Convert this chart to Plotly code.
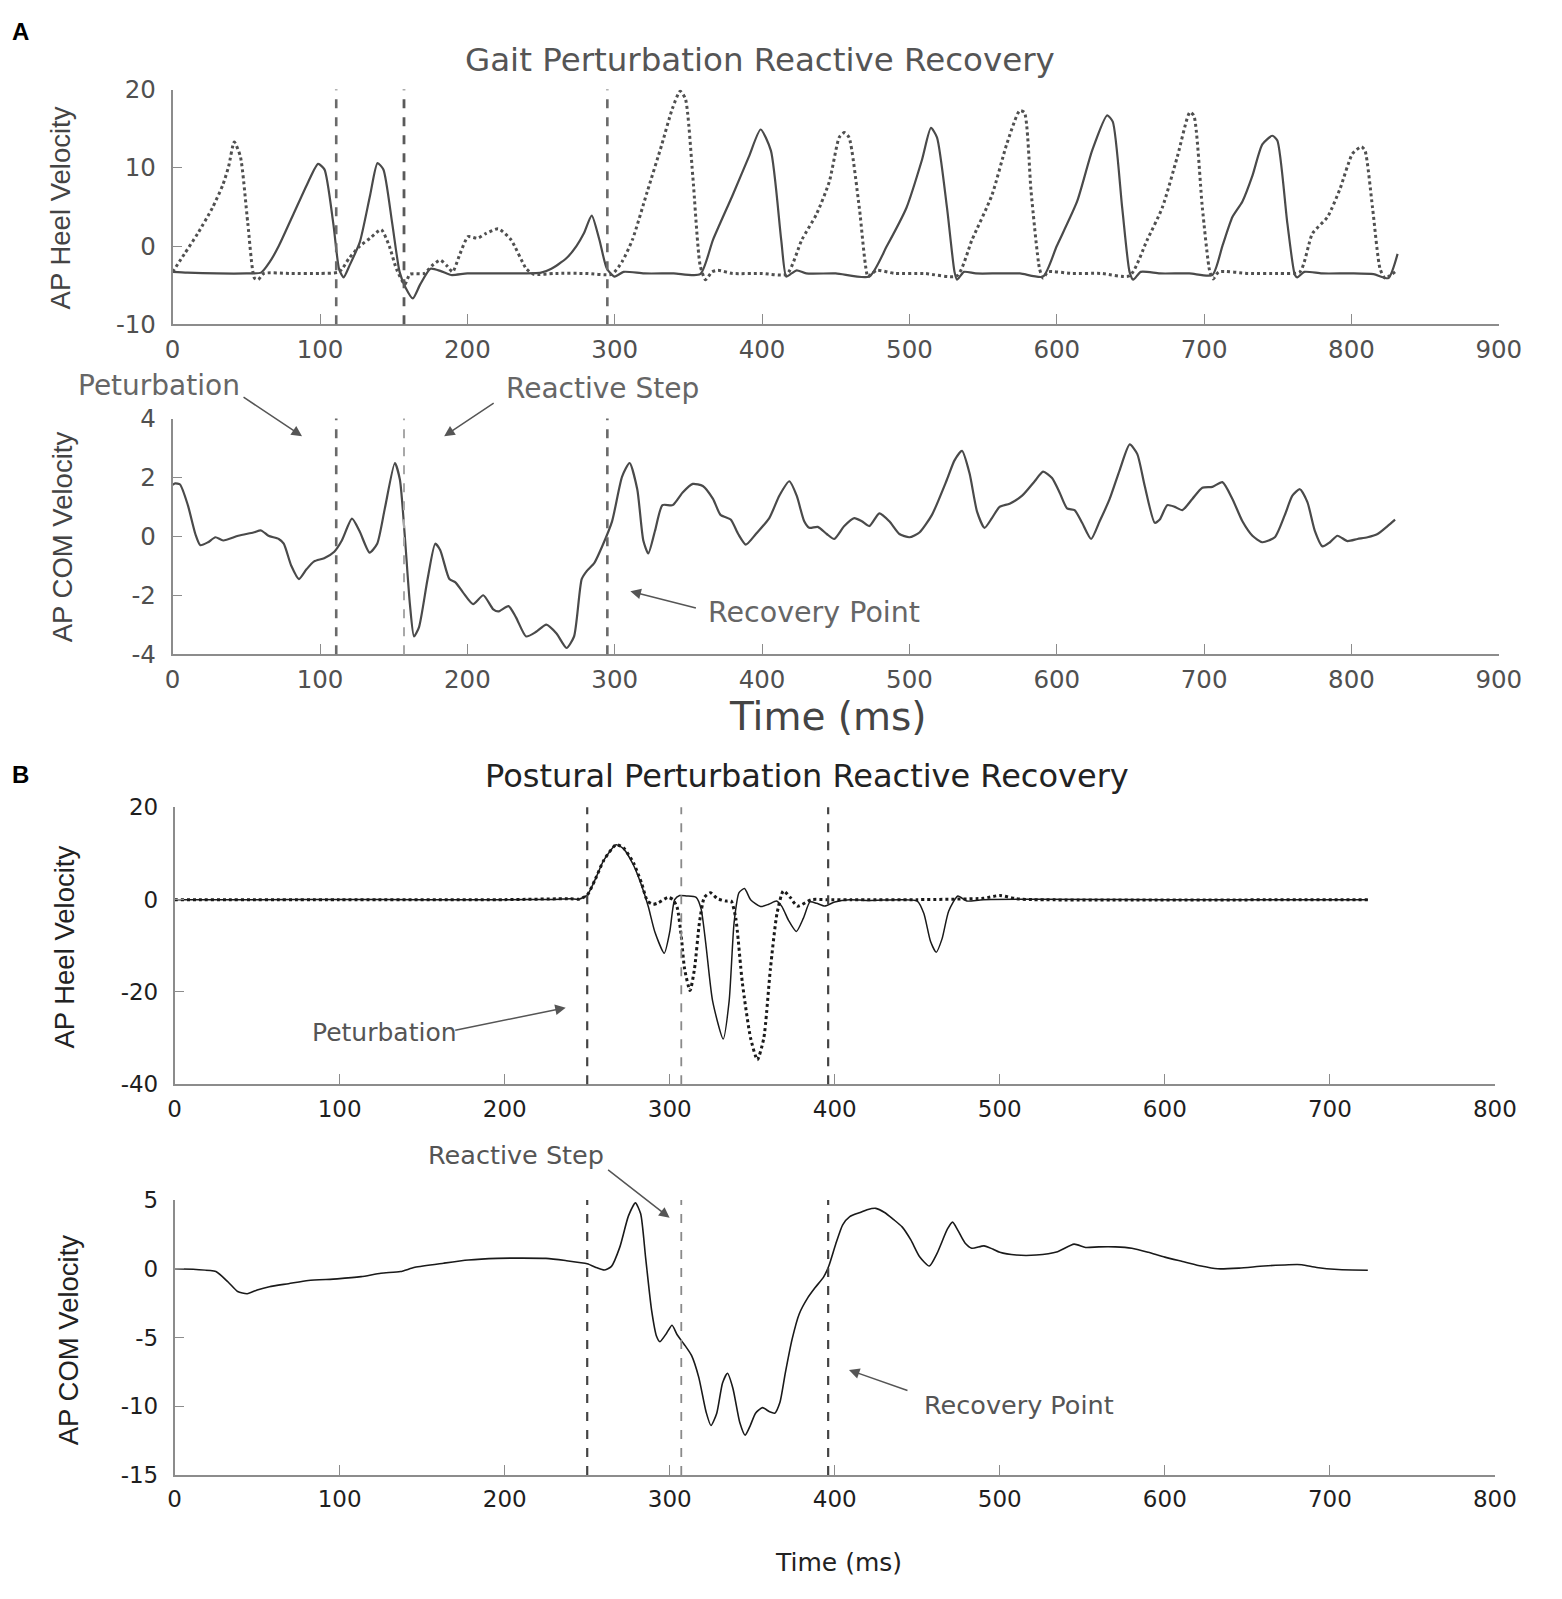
import plotly.graph_objects as go

# ---- data -------------------------------------------------------------
# A: gait perturbation, heel velocity (two feet)
gait_heel_t_solid = [0, 10, 30, 50, 60, 66, 72, 82, 92, 98.7, 103, 109, 113, 116, 120, 127,
                     134, 139, 143, 149, 154, 158, 163, 168, 175, 182, 189, 200, 230, 250,
                     257, 267, 274, 279, 284.4, 289.6, 294.7, 300, 306, 320, 340, 358, 366.7,
                     380, 391, 399, 406, 413, 416.4, 420, 423.5, 430, 450, 472.8, 484.7, 498,
                     508.5, 514.6, 518.7, 525.5, 530.6, 532.3, 537, 545, 560, 575, 590.7, 600,
                     613.8, 624, 634.2, 638, 644.4, 649.4, 651.9, 657, 670, 690, 705.6, 712.4,
                     719.2, 726, 732.8, 739.5, 746.3, 749.7, 756.5, 761.6, 763.3, 768, 780,
                     800, 815, 825, 831.3]
gait_heel_v_solid = [-3.3, -3.4, -3.5, -3.5, -3.4, -2.0, 0, 4.1, 8.2, 10.5, 9.8, 2.9, -3.0,
                     -4.0, -2.5, 0.5, 6.5, 10.6, 9.8, 2.9, -3.3, -5.3, -6.7, -4.9, -2.9, -3.2,
                     -3.7, -3.5, -3.5, -3.4, -2.9, -1.6, 0, 1.6, 3.9, 0.8, -2.9, -3.9, -3.3,
                     -3.5, -3.5, -3.6, 0.8, 6.5, 11.4, 14.9, 12.2, 0.8, -3.9, -3.5, -3.1, -3.5,
                     -3.5, -3.9, 0, 4.9, 11, 15.1, 13.9, 4.9, -3.3, -4.3, -3.3, -3.5, -3.5,
                     -3.5, -3.9, 0, 5.7, 12.2, 16.7, 15.9, 4.9, -3.3, -4.3, -3.3, -3.5, -3.5,
                     -3.7, 0, 3.7, 5.7, 9, 13, 14.1, 13.5, 2.9, -3.7, -4.0, -3.3, -3.5, -3.5,
                     -3.6, -4.1, -1.0]
gait_heel_t_dot = [0, 8, 17, 27, 34, 38, 41.8, 46, 51, 55.5, 58, 62, 80, 100, 113, 120, 127,
                   134, 141.5, 147, 152, 157.6, 161, 171, 176, 181.6, 186, 190, 195, 200.5,
                   207, 212.5, 221, 229.6, 240, 245, 260, 280, 298, 305, 312, 322, 332, 339,
                   344.4, 348, 353, 358, 361.6, 366, 370, 380, 400, 416.8, 427, 437, 445.6,
                   452.4, 455.8, 459, 466, 471.8, 474, 478, 490, 510, 532.3, 542.5, 556, 566,
                   574.8, 578, 582.6, 588.3, 590.7, 594, 610, 630, 649.5, 661.4, 671.6, 681.8,
                   690.3, 693, 698.8, 703.9, 706.2, 710, 730, 750, 765, 773.5, 783.7, 792.2,
                   800.7, 806.8, 809.2, 814.3, 819.4, 822.8, 829.6]
gait_heel_v_dot = [-3.3, -1.0, 1.6, 4.9, 7.8, 10.2, 13.3, 11.4, 2.9, -4.1, -4.3, -3.5, -3.5,
                   -3.5, -3.3, -1.5, 0, 1.0, 2.1, 0, -3.0, -4.9, -3.6, -3.5, -2.5, -1.8, -2.5,
                   -3.3, -1.0, 1.2, 1.0, 1.6, 2.2, 0.8, -2.9, -3.6, -3.5, -3.5, -3.6, -2.0,
                   0.8, 6.9, 13, 17.5, 19.8, 18.8, 8.9, -2.5, -4.3, -3.3, -3.1, -3.5, -3.5,
                   -3.6, 0.8, 4.1, 8.2, 13.9, 14.5, 13.9, 4.9, -3.9, -3.6, -3.1, -3.5, -3.5,
                   -3.8, 0.8, 6.5, 13, 17.3, 17.1, 6.9, -2.9, -4.1, -3.3, -3.5, -3.5, -3.8,
                   0.8, 4.9, 11.4, 17.1, 16.7, 4.9, -3.3, -4.2, -3.3, -3.5, -3.5, -3.3, 1.6,
                   3.7, 7.3, 11.8, 12.7, 12.2, 4.9, -2.9, -4.1, -3.3]

# A: gait perturbation, COM velocity
gait_com_t = [0, 1.7, 5, 10.3, 15.4, 18.8, 24, 29, 34.3, 44.5, 54.8, 60, 65, 72, 75.4, 80.5,
              85.7, 90.8, 96, 102.8, 109.7, 114.8, 121.7, 126.8, 133.6, 138.8, 144, 150.8,
              154.2, 157.6, 161, 163.8, 167.2, 173, 178.2, 181.6, 187.8, 191.9, 197, 203.9,
              210.8, 217.6, 221, 227.9, 233, 239.9, 246.7, 253.6, 260.5, 267.3, 272.4, 277.6,
              281, 286.2, 291.3, 298.2, 305, 310.1, 315.3, 319.4, 322.8, 327.3, 332.4, 339.3,
              346.1, 353, 359.8, 366.7, 371.8, 378.7, 383.8, 389, 395.8, 404.9, 411.7, 418.5,
              423.5, 428.6, 432, 437.8, 443.9, 449, 455.8, 462.6, 467.7, 472.8, 479.6, 486.4,
              493.2, 500, 506.8, 515.3, 525.5, 530.6, 535.7, 540.8, 545.9, 551, 556, 561.2,
              568, 576.5, 585, 590.7, 596.8, 601.9, 607, 612.1, 617.2, 623.3, 629.1, 635.9,
              642.7, 649.5, 654.6, 659.7, 666.5, 669.9, 675, 680.1, 685.2, 692, 698.8, 705.6,
              712.4, 719.2, 726, 732.8, 739.5, 748, 754.8, 759.9, 765, 770.1, 775.2, 780.3,
              785.4, 790.5, 797.3, 804.1, 810.9, 817.7, 824.5, 829.6]
gait_com_v = [1.75, 1.8, 1.76, 1.06, 0.08, -0.3, -0.2, -0.03, -0.14, 0.02, 0.13, 0.2, 0.02,
              -0.09, -0.25, -1.0, -1.45, -1.12, -0.85, -0.74, -0.52, -0.14, 0.6, 0.18, -0.55,
              -0.25, 0.95, 2.49, 1.93, -0.03, -2.3, -3.4, -3.08, -1.45, -0.25, -0.47, -1.45,
              -1.56, -1.9, -2.3, -2.0, -2.48, -2.55, -2.37, -2.75, -3.4, -3.24, -3.0, -3.3,
              -3.79, -3.4, -1.45, -1.18, -0.9, -0.36, 0.51, 2.03, 2.49, 1.6, -0.14, -0.58,
              0.18, 1.06, 1.06, 1.49, 1.78, 1.71, 1.27, 0.73, 0.57, 0.08, -0.28, 0.08, 0.62,
              1.38, 1.87, 1.38, 0.51, 0.29, 0.32, 0.08, -0.09, 0.35, 0.62, 0.51, 0.35, 0.78,
              0.51, 0.08, -0.03, 0.13, 0.73, 1.93, 2.58, 2.9, 2.14, 0.84, 0.29, 0.62, 1.0,
              1.11, 1.38, 1.87, 2.2, 1.98, 1.49, 0.95, 0.89, 0.46, -0.09, 0.51, 1.27, 2.25,
              3.12, 2.8, 1.71, 0.46, 0.57, 1.06, 1.0, 0.89, 1.27, 1.65, 1.68, 1.84, 1.27,
              0.51, 0.02, -0.2, -0.03, 0.73, 1.38, 1.6, 1.16, 0.18, -0.34, -0.2, 0.02, -0.16,
              -0.09, -0.03, 0.08, 0.35, 0.57]

# B: postural perturbation, heel velocity (two feet)
post_heel_t_solid = [0, 50, 100, 150, 200, 230, 240, 245, 250, 255, 260, 267.5, 272, 278,
                     283, 287, 291, 296.7, 300, 303, 306, 310, 316, 319, 322, 326, 332.4, 336,
                     339, 342, 345.3, 349, 355, 360, 364.7, 368, 372, 376.7, 381, 385, 389,
                     394, 400, 409, 420, 440, 450, 454, 458, 461.5, 465, 469, 474.6, 480, 490,
                     600, 723]
post_heel_v_solid = [0, 0, 0.05, 0, 0, 0.05, 0.2, 0.1, 1.0, 4.5, 8.5, 11.9, 11, 7.5, 3,
                     -1.5, -7, -11.6, -7, 0, 0.9, 0.8, 0.5, -2, -10, -22, -30.2, -22, -5, 1.5,
                     2.4, 0, -1.5, -1.0, -0.3, -1.5, -4.5, -6.9, -4, -0.5, -0.8, -1.4, -0.5,
                     0, -0.2, 0, -0.3, -3, -9, -11.4, -8.5, -2.5, 0.8, -0.3, 0, 0, 0]
post_heel_t_dot = [0, 100, 200, 240, 245, 250, 255, 260, 267.5, 272, 278, 283, 286.5, 290,
                   293, 299, 302, 304.5, 307, 309, 312.3, 315, 318, 321, 324.6, 329, 334,
                   337.2, 340, 344, 349, 353.1, 357, 361, 365, 368.9, 373, 377.4, 385.8, 395,
                   410, 450, 490, 500, 510, 520, 723]
post_heel_v_dot = [0, 0, 0, 0.2, 0.1, 1.0, 4.5, 8.5, 11.9, 11.2, 8, 3.5, -0.3, -1.0, -0.7,
                   0.5, 0, -1.7, -8, -15, -19.7, -15, -5, 0.5, 1.5, 0.2, -0.3, -0.3, -4, -18,
                   -30, -34.7, -30, -15, -3, 1.9, 0.5, -1.4, 0, 0, 0, 0, 0.3, 0.9, 0.2, 0, 0]

# B: postural perturbation, COM velocity
post_com_t = [0, 13, 25, 32.4, 38.2, 44, 50, 57.4, 69, 81, 98.5, 113, 125, 136.8, 145.6, 163,
              178, 195.6, 210, 225, 236.8, 250, 256, 260.3, 264.7, 269.7, 275, 279.2, 282.4,
              285.4, 289, 292, 294.1, 298, 301.4, 304.5, 308.8, 313.2, 317.6, 322, 325, 328.5,
              332, 335, 338.3, 342.5, 345.7, 348.8, 352, 356.2, 360.5, 363.6, 366.8, 370,
              374.2, 378.4, 383.7, 387.9, 393.2, 396.4, 400.6, 404.8, 409.1, 415.4, 419.6,
              424.9, 430.2, 435.5, 440.8, 446.1, 451.3, 457.3, 461.9, 468.3, 471.4, 474.6,
              478.8, 483, 490.4, 495.7, 500, 510, 522, 535, 545, 552, 560, 570, 580, 590, 600,
              612, 622, 632, 645, 660, 675, 683, 692, 705, 723]
post_com_v = [0, -0.05, -0.2, -0.96, -1.65, -1.81, -1.54, -1.3, -1.08, -0.85, -0.73, -0.57,
              -0.32, -0.2, 0.11, 0.41, 0.64, 0.76, 0.78, 0.76, 0.6, 0.37, 0.07, -0.09, 0.18,
              1.56, 3.85, 4.8, 4.0, 0.8, -3.0, -4.9, -5.3, -4.7, -4.1, -4.8, -5.5, -6.3, -7.9,
              -10.4, -11.4, -10.5, -8.3, -7.6, -8.7, -11.2, -12.1, -11.4, -10.5, -10.1, -10.4,
              -10.5, -9.7, -7.6, -5.1, -3.3, -2.1, -1.4, -0.6, 0.2, 1.8, 3.2, 3.8, 4.1, 4.3,
              4.4, 4.1, 3.6, 3.05, 2.1, 0.9, 0.2, 1.1, 2.9, 3.4, 2.8, 1.9, 1.5, 1.67, 1.44,
              1.2, 1.0, 1.0, 1.25, 1.8, 1.55, 1.6, 1.6, 1.5, 1.2, 0.85, 0.5, 0.2, 0.0, 0.05,
              0.2, 0.3, 0.3, 0.1, -0.05, -0.1]

# event markers (ms): perturbation, reactive step, recovery point
gait_events = [111, 157, 295]
post_events = [250, 307, 396]

gait_x_ticks = list(range(0, 901, 100))
post_x_ticks = list(range(0, 801, 100))
gait_heel_y_ticks = [-10, 0, 10, 20]
gait_com_y_ticks = [-4, -2, 0, 2, 4]
post_heel_y_ticks = [-40, -20, 0, 20]
post_com_y_ticks = [-15, -10, -5, 0, 5]

# ---- layout helpers ---------------------------------------------------
W, H = 1562, 1599
FONT = "Liberation Sans, Arial, sans-serif"
WIDE = "DejaVu Sans, Verdana, sans-serif"
GRAY_A = "#505050"
DARK_B = "#1e1e1e"


def px(x, y):
    """Pixel position of the page -> paper coordinates."""
    return x / W, 1 - y / H


def dom_x(left, right):
    return [left / W, right / W]


def dom_y(top, bottom):
    return [1 - bottom / H, 1 - top / H]


fig = go.Figure()

line_kw = dict(shape="spline", smoothing=0.6)

# A1 heel
fig.add_trace(go.Scatter(x=gait_heel_t_solid, y=gait_heel_v_solid, xaxis="x", yaxis="y",
                         mode="lines", line=dict(color="#4a4a4a", width=2.2, **line_kw)))
fig.add_trace(go.Scatter(x=gait_heel_t_dot, y=gait_heel_v_dot, xaxis="x", yaxis="y",
                         mode="lines", line=dict(color="#505050", width=3, dash="dot", **line_kw)))
# A2 COM
fig.add_trace(go.Scatter(x=gait_com_t, y=gait_com_v, xaxis="x2", yaxis="y2",
                         mode="lines", line=dict(color="#4a4a4a", width=2.2, **line_kw)))
# B1 heel
fig.add_trace(go.Scatter(x=post_heel_t_solid, y=post_heel_v_solid, xaxis="x3", yaxis="y3",
                         mode="lines", line=dict(color="#1a1a1a", width=1.5, **line_kw)))
fig.add_trace(go.Scatter(x=post_heel_t_dot, y=post_heel_v_dot, xaxis="x3", yaxis="y3",
                         mode="lines", line=dict(color="#1a1a1a", width=3, dash="dot", **line_kw)))
# B2 COM
fig.add_trace(go.Scatter(x=post_com_t, y=post_com_v, xaxis="x4", yaxis="y4",
                         mode="lines", line=dict(color="#1a1a1a", width=1.6, **line_kw)))

# vertical dashed event lines
for xr, yr, events, styles in [
    ("x", "y", gait_events, [("#6a6a6a", 2.6), ("#5a5a5a", 2.8), ("#6a6a6a", 2.6)]),
    ("x2", "y2", gait_events, [("#6a6a6a", 2.6), ("#a8a8a8", 2.0), ("#6a6a6a", 2.6)]),
    ("x3", "y3", post_events, [("#444444", 2.2), ("#8a8a8a", 1.8), ("#444444", 2.2)]),
    ("x4", "y4", post_events, [("#444444", 2.2), ("#8a8a8a", 1.8), ("#444444", 2.2)]),
]:
    for ev, (c, w) in zip(events, styles):
        fig.add_shape(type="line", xref=xr, yref=yr + " domain", x0=ev, x1=ev, y0=0, y1=1,
                      line=dict(color=c, width=w, dash="dash"))


def axis(domain, anchor, ticks, rng, color, size, standoff):
    return dict(domain=domain, anchor=anchor, range=rng, tickvals=ticks,
                ticktext=[str(t) for t in ticks],
                showline=True, linecolor="#8c8c8c", linewidth=1.6, ticks="inside",
                ticklen=10, tickcolor="#8c8c8c", tickwidth=1.4, showgrid=False,
                zeroline=False, tickfont=dict(family=WIDE, size=size, color=color),
                ticklabelstandoff=standoff)


xa = dom_x(168, 1521)
xb = dom_x(170, 1517)

fig.update_layout(
    width=W, height=H, margin=dict(l=0, r=0, t=0, b=0),
    paper_bgcolor="white", plot_bgcolor="white", showlegend=False,
    xaxis=axis(xa, "y", gait_x_ticks, [0, 900], GRAY_A, 24.5, 3),
    yaxis=axis(dom_y(77, 316), "x", gait_heel_y_ticks, [-10, 20], GRAY_A, 24.5, 10),
    xaxis2=axis(xa, "y2", gait_x_ticks, [0, 900], GRAY_A, 24.5, 3),
    yaxis2=axis(dom_y(412, 652), "x2", gait_com_y_ticks, [-4, 4], GRAY_A, 24.5, 10),
    xaxis3=axis(xb, "y3", post_x_ticks, [0, 800], DARK_B, 23, 3),
    yaxis3=axis(dom_y(808, 1090), "x3", post_heel_y_ticks, [-40, 20], DARK_B, 23, 10),
    xaxis4=axis(xb, "y4", post_x_ticks, [0, 800], DARK_B, 23, 3),
    yaxis4=axis(dom_y(1208, 1488), "x4", post_com_y_ticks, [-15, 5], DARK_B, 23, 10),
)

# ---- text ---------------------------------------------------------------
texts = [
    # (text, x, y, font, size, color, angle, bold)
    ("A", 13, 18, FONT, 24, "#000000", 0, True),
    ("B", 13, 775, FONT, 24, "#000000", 0, True),
    ("Gait Perturbation Reactive Recovery", 767, 47, WIDE, 32.5, "#555555", 0, False),
    ("Postural Perturbation Reactive Recovery", 815, 776, WIDE, 32, "#222222", 0, False),
    ("AP Heel Velocity", 53, 197, FONT, 27.5, "#444444", -90, False),
    ("AP COM Velocity", 55, 532, FONT, 27.5, "#444444", -90, False),
    ("AP Heel Velocity", 58, 950, FONT, 27.5, "#222222", -90, False),
    ("AP COM Velocity", 62, 1350, FONT, 27.5, "#222222", -90, False),
    ("Time (ms)", 837, 715, WIDE, 39, "#444444", 0, False),
    ("Time (ms)", 847, 1577, WIDE, 25, "#222222", 0, False),
    ("Peturbation", 154, 378, WIDE, 28, "#666666", 0, False),
    ("Reactive Step", 607, 381, WIDE, 28, "#666666", 0, False),
    ("Recovery Point", 822, 610, WIDE, 28.5, "#666666", 0, False),
    ("Peturbation", 384, 1037, WIDE, 25, "#555555", 0, False),
    ("Reactive Step", 518, 1162, WIDE, 25.5, "#555555", 0, False),
    ("Recovery Point", 1031, 1417, WIDE, 25.5, "#555555", 0, False),
]
for t, x, y, fam, s, c, ang, bold in texts:
    xp, yp = px(x, y)
    fig.add_annotation(text=f"<b>{t}</b>" if bold else t, x=xp, y=yp, xref="paper", yref="paper",
                       showarrow=False, textangle=ang, xanchor="center", yanchor="middle",
                       font=dict(family=fam, size=s, color=c))

# arrows: (tail x, tail y, head x, head y) in page pixels
arrows = [
    (240, 390, 300, 430),
    (496, 396, 445, 430),
    (702, 605, 635, 588),
    (457, 1035, 569, 1012),
    (612, 1177, 675, 1226),
    (918, 1402, 858, 1381),
]
for tx, ty, hx, hy in arrows:
    xp, yp = px(hx, hy)
    fig.add_annotation(text="", x=xp, y=yp, xref="paper", yref="paper", showarrow=True,
                       ax=tx - hx, ay=ty - hy, arrowhead=2, arrowsize=1.4, arrowwidth=1.5,
                       arrowcolor="#555555")

fig.write_html("out.html", config={"displayModeBar": False},
               post_script="document.body.style.margin='0';")
